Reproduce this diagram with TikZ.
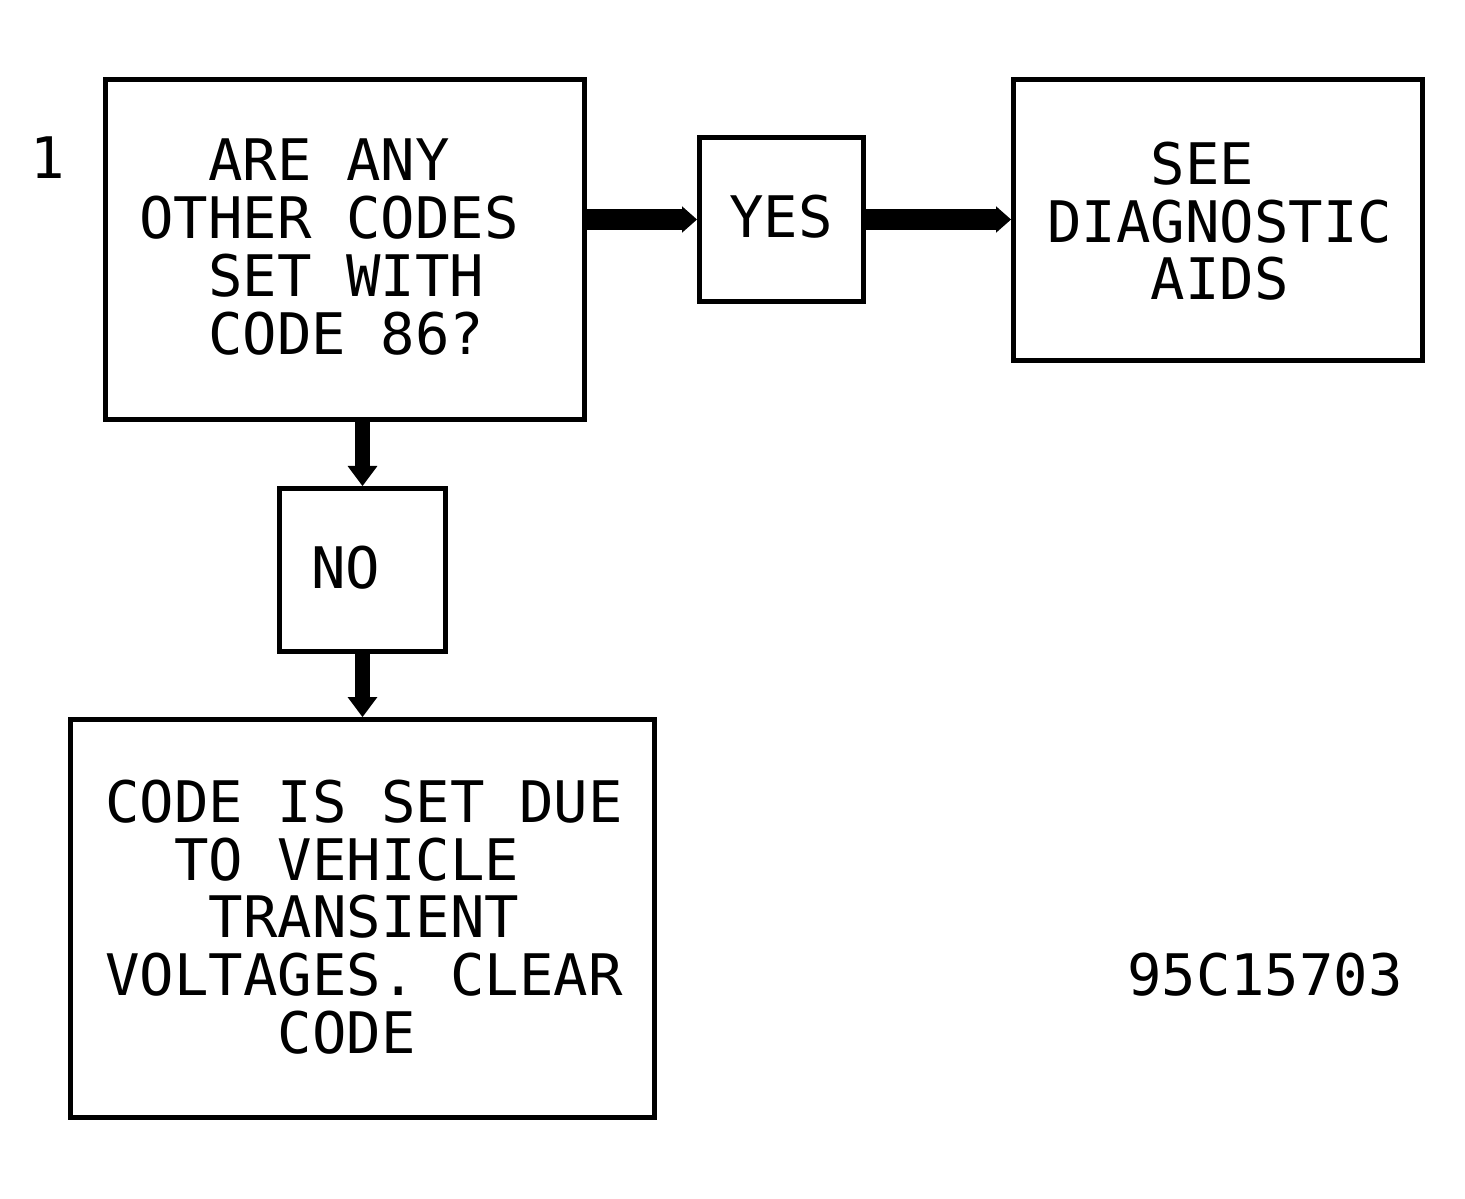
\documentclass[tikz,border=0pt]{standalone}
\usepackage{fontspec}
\setmainfont{DejaVu Sans Mono}
\usetikzlibrary{arrows.meta}

\begin{document}
\begin{tikzpicture}[x=0.02cm, y=-0.02cm, line width=2.85pt,
    box/.style={draw, rectangle, inner sep=0pt},
    txt/.style={inner sep=0pt, align=left, font=\fontsize{32.6pt}{33pt}\selectfont},
    wide/.style={line width=11.4pt, -{Triangle[width=15pt, length=8.5pt, line width=0pt]}},
    tall/.style={line width=8.5pt, -{Triangle[width=17pt, length=11.4pt, line width=0pt]}}]
    \useasboundingbox (0,0) rectangle (1465,1198);

    \node[box, minimum width=9.58cm, minimum height=6.8cm] (codes) at (345,249.5) {};
    \node[box, minimum width=3.28cm, minimum height=3.28cm] (yes) at (781.5,219.5) {};
    \node[box, minimum width=8.18cm, minimum height=5.62cm] (aids) at (1218,220) {};
    \node[box, minimum width=3.32cm, minimum height=3.26cm] (no) at (362.5,570) {};
    \node[box, minimum width=11.68cm, minimum height=7.96cm] (clear) at (362.5,918.5) {};

    \node[txt] (step) at (48,158) {1};
    \node[txt, anchor=north west] (codestext) at (137,136)
        {\phantom{AA}ARE ANY\\OTHER CODES\\\phantom{AA}SET WITH\\\phantom{AA}CODE 86?};
    \node[txt] (yestext) at (781,217) {YES};
    \node[txt, anchor=north west] (aidstext) at (1045,139)
        {\phantom{AAA}SEE\\DIAGNOSTIC\\\phantom{AAA}AIDS};
    \node[txt] (notext) at (346,568) {NO};
    \node[txt, anchor=north west] (cleartext) at (103,777)
        {CODE IS SET DUE\\\phantom{AA}TO VEHICLE\\\phantom{AAA}TRANSIENT\\VOLTAGES. CLEAR\\\phantom{AAAAA}CODE};
    \node[txt] (figno) at (1265,975) {95C15703};

    \draw[wide] (yes.west -| codes.east) -- (yes.west);
    \draw[wide] (yes.east) -- (yes.east -| aids.west);
    \draw[tall] (no.north |- codes.south) -- (no.north);
    \draw[tall] (no.south) -- (clear.north);
\end{tikzpicture}
\end{document}
